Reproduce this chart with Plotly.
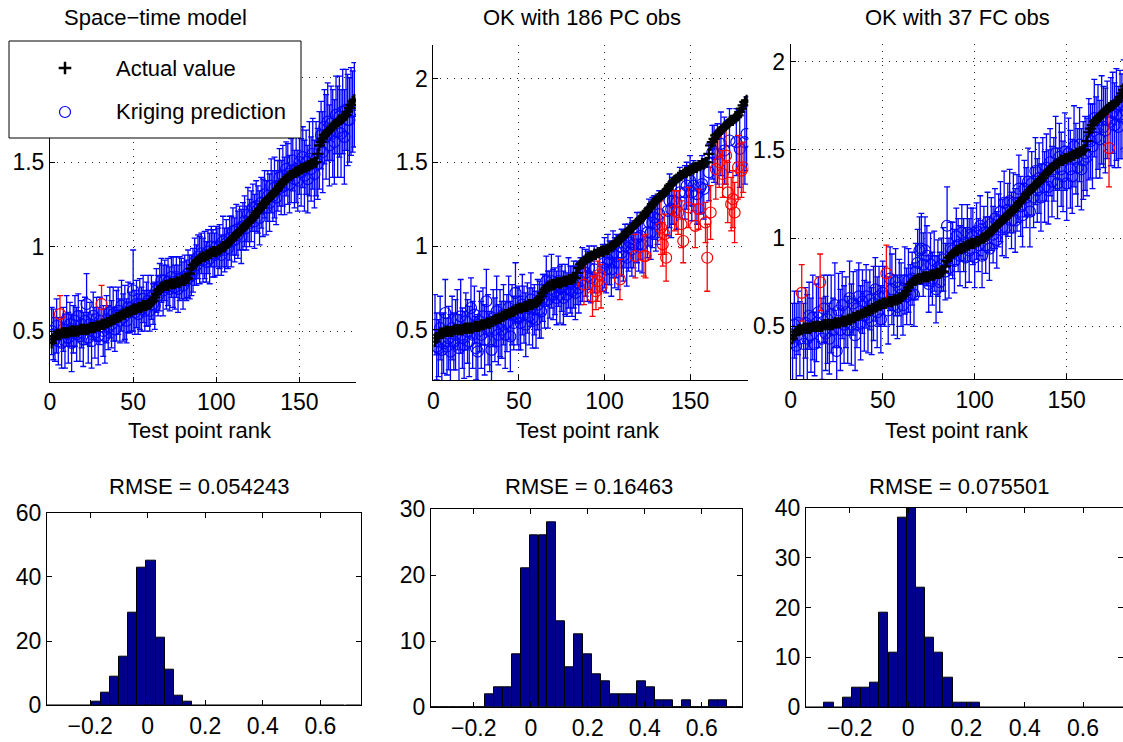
import plotly.graph_objects as go

W, H = 1123, 742

# ---------------- data ----------------
rank = list(range(1, 184))

actual = [
    0.43, 0.45, 0.47, 0.48, 0.48, 0.48, 0.49, 0.49, 0.49, 0.49,
    0.49, 0.50, 0.50, 0.50, 0.50, 0.50, 0.50, 0.51, 0.51, 0.51,
    0.51, 0.51, 0.51, 0.52, 0.52, 0.52, 0.52, 0.53, 0.53, 0.53,
    0.54, 0.54, 0.54, 0.55, 0.55, 0.56, 0.56, 0.57, 0.57, 0.58,
    0.58, 0.59, 0.59, 0.60, 0.60, 0.61, 0.61, 0.62, 0.62, 0.63,
    0.63, 0.63, 0.64, 0.64, 0.64, 0.65, 0.65, 0.65, 0.66, 0.66,
    0.67, 0.68, 0.70, 0.72, 0.74, 0.75, 0.76, 0.76, 0.77, 0.77,
    0.77, 0.78, 0.78, 0.78, 0.78, 0.79, 0.79, 0.79, 0.80, 0.80,
    0.80, 0.81, 0.81, 0.84, 0.87, 0.89, 0.90, 0.91, 0.92, 0.93,
    0.93, 0.94, 0.94, 0.95, 0.95, 0.96, 0.96, 0.97, 0.97, 0.97,
    0.98, 0.98, 0.99, 1.00, 1.00, 1.01, 1.02, 1.03, 1.04, 1.05,
    1.06, 1.07, 1.08, 1.09, 1.10, 1.11, 1.12, 1.13, 1.14, 1.15,
    1.16, 1.17, 1.18, 1.20, 1.21, 1.22, 1.23, 1.25, 1.26, 1.27,
    1.28, 1.29, 1.30, 1.31, 1.32, 1.33, 1.34, 1.36, 1.37, 1.38,
    1.39, 1.40, 1.41, 1.42, 1.42, 1.43, 1.44, 1.44, 1.45, 1.45,
    1.46, 1.46, 1.47, 1.47, 1.48, 1.48, 1.49, 1.49, 1.50, 1.50,
    1.55, 1.60, 1.62, 1.64, 1.66, 1.67, 1.68, 1.69, 1.70, 1.71,
    1.72, 1.73, 1.74, 1.75, 1.75, 1.76, 1.77, 1.78, 1.80, 1.82,
    1.84, 1.86, 1.87]

pred_st = [
    0.50, 0.48, 0.45, 0.53, 0.44, 0.60, 0.43, 0.51, 0.44, 0.57,
    0.46, 0.54, 0.43, 0.51, 0.56, 0.48, 0.59, 0.47, 0.54, 0.45,
    0.56, 0.66, 0.46, 0.54, 0.44, 0.59, 0.49, 0.57, 0.47, 0.56,
    0.66, 0.50, 0.47, 0.57, 0.52, 0.61, 0.54, 0.60, 0.51, 0.59,
    0.62, 0.56, 0.65, 0.58, 0.61, 0.56, 0.64, 0.61, 0.64, 0.74,
    0.61, 0.66, 0.60, 0.66, 0.63, 0.69, 0.62, 0.66, 0.68, 0.62,
    0.70, 0.66, 0.65, 0.74, 0.71, 0.76, 0.80, 0.74, 0.80, 0.76,
    0.79, 0.75, 0.82, 0.79, 0.76, 0.82, 0.75, 0.81, 0.81, 0.77,
    0.82, 0.80, 0.84, 0.82, 0.83, 0.86, 0.91, 0.89, 0.94, 0.92,
    0.96, 0.92, 0.95, 0.91, 0.97, 0.93, 1.00, 0.96, 0.95, 1.00,
    0.97, 1.00, 0.95, 1.03, 0.98, 1.02, 0.99, 1.05, 1.03, 1.09,
    1.04, 1.10, 1.07, 1.11, 1.06, 1.12, 1.15, 1.11, 1.19, 1.14,
    1.18, 1.23, 1.15, 1.24, 1.22, 1.17, 1.26, 1.23, 1.31, 1.23,
    1.30, 1.26, 1.36, 1.30, 1.35, 1.29, 1.36, 1.41, 1.35, 1.42,
    1.36, 1.46, 1.43, 1.37, 1.45, 1.51, 1.40, 1.46, 1.39, 1.50,
    1.44, 1.53, 1.42, 1.50, 1.40, 1.52, 1.46, 1.55, 1.43, 1.52,
    1.49, 1.57, 1.66, 1.56, 1.71, 1.65, 1.74, 1.60, 1.73, 1.67,
    1.62, 1.78, 1.68, 1.77, 1.67, 1.80, 1.65, 1.81, 1.75, 1.75,
    1.80, 1.80, 1.84]

hw_st = [
    0.14, 0.15, 0.13, 0.16, 0.14, 0.11, 0.15, 0.13, 0.16, 0.14,
    0.15, 0.13, 0.17, 0.14, 0.15, 0.16, 0.13, 0.15, 0.14, 0.16,
    0.14, 0.18, 0.15, 0.13, 0.16, 0.14, 0.15, 0.13, 0.17, 0.14,
    0.11, 0.15, 0.16, 0.14, 0.13, 0.15, 0.14, 0.16, 0.13, 0.15,
    0.14, 0.13, 0.15, 0.14, 0.16, 0.13, 0.15, 0.12, 0.14, 0.24,
    0.13, 0.14, 0.12, 0.15, 0.13, 0.14, 0.12, 0.13, 0.15, 0.12,
    0.13, 0.12, 0.14, 0.13, 0.12, 0.14, 0.13, 0.15, 0.12, 0.13,
    0.14, 0.13, 0.12, 0.15, 0.13, 0.12, 0.14, 0.13, 0.12, 0.14,
    0.13, 0.12, 0.14, 0.13, 0.12, 0.13, 0.14, 0.12, 0.13, 0.14,
    0.12, 0.13, 0.14, 0.12, 0.13, 0.15, 0.12, 0.14, 0.13, 0.12,
    0.14, 0.13, 0.12, 0.15, 0.13, 0.14, 0.12, 0.13, 0.15, 0.14,
    0.13, 0.15, 0.14, 0.13, 0.16, 0.14, 0.15, 0.13, 0.16, 0.14,
    0.15, 0.14, 0.16, 0.15, 0.14, 0.16, 0.15, 0.17, 0.14, 0.16,
    0.15, 0.17, 0.16, 0.15, 0.18, 0.16, 0.15, 0.17, 0.16, 0.18,
    0.17, 0.16, 0.18, 0.17, 0.19, 0.18, 0.17, 0.20, 0.18, 0.19,
    0.20, 0.18, 0.21, 0.19, 0.20, 0.22, 0.19, 0.21, 0.20, 0.22,
    0.21, 0.23, 0.20, 0.24, 0.22, 0.25, 0.23, 0.24, 0.22, 0.26,
    0.25, 0.23, 0.27, 0.24, 0.26, 0.25, 0.28, 0.24, 0.27, 0.25,
    0.26, 0.24, 0.25]

pred_pc = [
    0.53, 0.40, 0.39, 0.51, 0.38, 0.42, 0.60, 0.40, 0.45, 0.37,
    0.51, 0.43, 0.47, 0.56, 0.39, 0.58, 0.45, 0.41, 0.55, 0.49,
    0.43, 0.63, 0.47, 0.59, 0.39, 0.37, 0.55, 0.47, 0.58, 0.44,
    0.67, 0.50, 0.43, 0.38, 0.57, 0.50, 0.61, 0.47, 0.54, 0.50,
    0.59, 0.47, 0.54, 0.63, 0.46, 0.59, 0.54, 0.72, 0.58, 0.57,
    0.54, 0.65, 0.59, 0.53, 0.63, 0.58, 0.68, 0.57, 0.62, 0.56,
    0.65, 0.62, 0.61, 0.69, 0.67, 0.79, 0.68, 0.71, 0.79, 0.71,
    0.73, 0.69, 0.79, 0.71, 0.75, 0.69, 0.74, 0.71, 0.78, 0.74,
    0.73, 0.77, 0.72, 0.78, 0.75, 0.79, 0.83, 0.77, 0.84, 0.82,
    0.87, 0.81, 0.70, 0.86, 0.73, 0.79, 0.83, 0.76, 0.87, 0.90,
    0.86, 0.92, 0.90, 0.86, 0.95, 0.90, 0.94, 0.90, 0.80, 0.96,
    0.94, 1.00, 0.93, 0.99, 1.02, 0.98, 1.01, 0.94, 1.05, 1.01,
    1.06, 1.01, 0.94, 0.94, 1.08, 1.14, 1.08, 1.14, 1.17, 1.13,
    1.16, 1.19, 1.11, 1.01, 1.07, 0.93, 1.21, 1.27, 1.22, 1.27,
    1.21, 1.26, 1.20, 1.32, 1.13, 1.03, 1.32, 1.36, 1.23, 1.39,
    1.32, 1.36, 1.12, 1.31, 1.22, 1.35, 1.37, 1.34, 1.14, 0.93,
    1.44, 1.20, 1.56, 1.55, 1.46, 1.55, 1.50, 1.61, 1.43, 1.57,
    1.54, 1.32, 1.63, 1.25, 1.28, 1.20, 1.62, 1.47, 1.58, 1.45,
    1.47, 1.62, 1.67]

hw_pc = [
    0.18, 0.20, 0.17, 0.19, 0.21, 0.18, 0.20, 0.17, 0.19, 0.22,
    0.19, 0.17, 0.21, 0.18, 0.20, 0.22, 0.18, 0.20, 0.17, 0.19,
    0.21, 0.18, 0.20, 0.17, 0.19, 0.22, 0.18, 0.20, 0.17, 0.21,
    0.19, 0.21, 0.18, 0.20, 0.17, 0.19, 0.21, 0.18, 0.20, 0.17,
    0.18, 0.20, 0.17, 0.19, 0.21, 0.18, 0.16, 0.18, 0.17, 0.19,
    0.16, 0.18, 0.17, 0.19, 0.15, 0.17, 0.16, 0.18, 0.15, 0.17,
    0.15, 0.17, 0.16, 0.14, 0.16, 0.15, 0.17, 0.14, 0.16, 0.15,
    0.14, 0.16, 0.15, 0.17, 0.14, 0.16, 0.15, 0.13, 0.15, 0.14,
    0.15, 0.14, 0.16, 0.13, 0.15, 0.14, 0.16, 0.12, 0.14, 0.15,
    0.13, 0.15, 0.12, 0.14, 0.11, 0.12, 0.11, 0.13, 0.14, 0.15,
    0.14, 0.15, 0.13, 0.16, 0.14, 0.15, 0.13, 0.16, 0.12, 0.14,
    0.15, 0.13, 0.17, 0.14, 0.15, 0.16, 0.14, 0.13, 0.15, 0.16,
    0.14, 0.17, 0.12, 0.13, 0.15, 0.14, 0.16, 0.15, 0.13, 0.16,
    0.15, 0.14, 0.16, 0.13, 0.12, 0.14, 0.15, 0.16, 0.17, 0.14,
    0.12, 0.16, 0.13, 0.15, 0.14, 0.13, 0.16, 0.14, 0.12, 0.15,
    0.17, 0.15, 0.13, 0.18, 0.12, 0.16, 0.17, 0.18, 0.12, 0.20,
    0.17, 0.16, 0.16, 0.17, 0.18, 0.18, 0.15, 0.19, 0.14, 0.20,
    0.17, 0.18, 0.19, 0.16, 0.17, 0.18, 0.20, 0.19, 0.23, 0.16,
    0.15, 0.25, 0.22]

pred_fc = [
    0.41, 0.51, 0.39, 0.52, 0.43, 0.69, 0.40, 0.52, 0.43, 0.56,
    0.45, 0.55, 0.40, 0.52, 0.58, 0.75, 0.43, 0.60, 0.46, 0.54,
    0.43, 0.57, 0.48, 0.62, 0.36, 0.59, 0.48, 0.62, 0.51, 0.58,
    0.48, 0.66, 0.51, 0.63, 0.45, 0.60, 0.67, 0.52, 0.64, 0.56,
    0.67, 0.55, 0.65, 0.53, 0.63, 0.71, 0.58, 0.67, 0.54, 0.69,
    0.67, 0.80, 0.59, 0.77, 0.71, 0.62, 0.75, 0.61, 0.72, 0.68,
    0.62, 0.76, 0.67, 0.76, 0.68, 0.77, 0.68, 0.81, 0.86, 0.93,
    0.94, 0.85, 0.93, 0.90, 0.74, 0.85, 0.77, 0.87, 0.71, 0.83,
    0.75, 0.85, 0.88, 0.81, 1.07, 0.83, 0.94, 0.93, 0.87, 1.01,
    0.96, 0.90, 1.03, 0.96, 0.89, 1.03, 0.93, 1.02, 1.01, 0.89,
    1.04, 0.96, 1.07, 0.90, 1.03, 0.96, 1.09, 0.94, 1.08, 1.02,
    1.11, 0.99, 1.10, 1.15, 1.06, 1.20, 1.06, 1.16, 1.21, 1.10,
    1.20, 1.10, 1.20, 1.28, 1.18, 1.13, 1.28, 1.23, 1.32, 1.15,
    1.31, 1.23, 1.38, 1.27, 1.34, 1.23, 1.39, 1.29, 1.40, 1.29,
    1.43, 1.32, 1.39, 1.48, 1.31, 1.46, 1.39, 1.35, 1.49, 1.31,
    1.48, 1.39, 1.35, 1.52, 1.45, 1.40, 1.53, 1.39, 1.44, 1.48,
    1.46, 1.56, 1.55, 1.52, 1.68, 1.57, 1.63, 1.56, 1.67, 1.63,
    1.61, 1.67, 1.51, 1.66, 1.71, 1.64, 1.70, 1.63, 1.70, 1.69,
    1.76, 1.72, 1.76]

hw_fc = [
    0.22, 0.19, 0.24, 0.18, 0.21, 0.16, 0.23, 0.20, 0.25, 0.19,
    0.21, 0.24, 0.18, 0.22, 0.20, 0.16, 0.23, 0.19, 0.21, 0.25,
    0.20, 0.22, 0.18, 0.24, 0.18, 0.21, 0.23, 0.19, 0.22, 0.20,
    0.19, 0.21, 0.23, 0.18, 0.20, 0.22, 0.19, 0.21, 0.18, 0.20,
    0.18, 0.20, 0.17, 0.19, 0.21, 0.18, 0.20, 0.17, 0.19, 0.18,
    0.17, 0.16, 0.19, 0.18, 0.20, 0.17, 0.19, 0.18, 0.16, 0.18,
    0.17, 0.19, 0.16, 0.18, 0.17, 0.15, 0.18, 0.16, 0.19, 0.19,
    0.20, 0.18, 0.19, 0.17, 0.16, 0.18, 0.15, 0.17, 0.19, 0.16,
    0.17, 0.15, 0.18, 0.16, 0.22, 0.17, 0.15, 0.16, 0.18, 0.16,
    0.15, 0.17, 0.16, 0.15, 0.17, 0.16, 0.18, 0.15, 0.16, 0.17,
    0.16, 0.15, 0.17, 0.18, 0.15, 0.16, 0.17, 0.18, 0.15, 0.16,
    0.17, 0.16, 0.15, 0.17, 0.16, 0.18, 0.17, 0.15, 0.18, 0.16,
    0.17, 0.18, 0.16, 0.19, 0.17, 0.18, 0.16, 0.17, 0.19, 0.20,
    0.18, 0.17, 0.19, 0.18, 0.20, 0.19, 0.18, 0.20, 0.19, 0.21,
    0.19, 0.20, 0.18, 0.21, 0.20, 0.19, 0.21, 0.20, 0.22, 0.21,
    0.20, 0.22, 0.21, 0.23, 0.20, 0.22, 0.21, 0.23, 0.22, 0.21,
    0.22, 0.23, 0.21, 0.24, 0.22, 0.23, 0.24, 0.22, 0.25, 0.23,
    0.24, 0.22, 0.22, 0.25, 0.23, 0.24, 0.26, 0.23, 0.25, 0.24,
    0.25, 0.23, 0.24]

# histogram bins (centres) and counts of the prediction errors
bin_centers = [
    -0.3343, -0.3029, -0.2714, -0.2400, -0.2086, -0.1771, -0.1457,
    -0.1143, -0.0829, -0.0514, -0.0200, 0.0114, 0.0429, 0.0743,
    0.1057, 0.1371, 0.1686, 0.2000, 0.2314, 0.2629, 0.2943,
    0.3257, 0.3571, 0.3886, 0.4200, 0.4514, 0.4829, 0.5143,
    0.5457, 0.5771, 0.6086, 0.6400, 0.6714, 0.7029, 0.7343]
counts_st = [0, 0, 0, 0, 0, 1, 4, 9, 15, 29, 43, 45, 21, 11, 3, 1, 0, 0,
             0, 0, 0, 0, 0, 0, 0, 0, 0, 0, 0, 0, 0, 0, 0, 0, 0]
counts_pc = [0, 0, 0, 0, 0, 0, 2, 3, 3, 8, 21, 26, 26, 28, 13, 6, 11, 8,
             5, 4, 2, 2, 2, 4, 3, 1, 1, 0, 1, 0, 0, 1, 1, 0, 0]
counts_fc = [0, 0, 1, 0, 2, 4, 4, 5, 19, 11, 38, 40, 24, 14, 11, 6, 1, 1,
             1, 0, 0, 0, 0, 0, 0, 0, 0, 0, 0, 0, 0, 0, 0, 0, 0]

top_titles = ["Space\u2212time model", "OK with 186 PC obs", "OK with 37 FC obs"]
hist_titles = ["RMSE = 0.054243", "RMSE = 0.16463", "RMSE = 0.075501"]
x_label = "Test point rank"
legend_labels = ["Actual value", "Kriging prediction"]

for arr in (actual, pred_st, hw_st, pred_pc, hw_pc, pred_fc, hw_fc):
    assert len(arr) == len(rank), len(arr)

# ---------------- layout helpers ----------------
FONT = "Liberation Sans, Arial, Helvetica, sans-serif"
FS_TICK = 23
FS_TEXT = 22


def px_x(x):
    return x / W


def px_y(y):
    return 1 - y / H


BLUE = "rgb(0,0,255)"
RED = "rgb(255,0,0)"
BAR = "rgb(0,0,143)"

fig = go.Figure()

top_panels = [
    dict(pred=pred_st, hw=hw_st, box=(50, 356, 44, 381.7), xr=[0, 184], yr=[0.2, 2.2]),
    dict(pred=pred_pc, hw=hw_pc, box=(433.3, 748.3, 45, 380), xr=[0, 184], yr=[0.2, 2.2]),
    dict(pred=pred_fc, hw=hw_fc, box=(790.7, 1123, 44, 379.3), xr=[0, 180.6], yr=[0.2, 2.1]),
]
hist_panels = [
    dict(counts=counts_st, box=(47, 360.7, 512.7, 705.3), xr=[-0.35, 0.74], yr=[0, 60],
         yt=[0, 20, 40, 60]),
    dict(counts=counts_pc, box=(431, 741.7, 509.3, 707.3), xr=[-0.35, 0.74], yr=[0, 30],
         yt=[0, 10, 20, 30]),
    dict(counts=counts_fc, box=(806, 1123, 507.7, 707.3), xr=[-0.35, 0.737], yr=[0, 40],
         yt=[0, 10, 20, 30, 40]),
]

layout = dict(
    width=W, height=H, autosize=False,
    margin=dict(l=0, r=0, t=0, b=0, autoexpand=False),
    paper_bgcolor="white", plot_bgcolor="rgba(0,0,0,0)",
    showlegend=False, font=dict(family=FONT, size=FS_TEXT, color="black"),
    bargap=0,
)

annotations = []

for i, p in enumerate(top_panels):
    n = i + 1
    xa = "x" if n == 1 else f"x{n}"
    ya = "y" if n == 1 else f"y{n}"
    blue_x, blue_y, blue_e = [], [], []
    red_x, red_y, red_e = [], [], []
    for r, a, pv, h in zip(rank, actual, p["pred"], p["hw"]):
        if abs(a - pv) > h + 1e-9:
            red_x.append(r); red_y.append(pv); red_e.append(h)
        else:
            blue_x.append(r); blue_y.append(pv); blue_e.append(h)
    for xs, ys, es, col in ((blue_x, blue_y, blue_e, BLUE), (red_x, red_y, red_e, RED)):
        fig.add_trace(go.Scatter(
            x=xs, y=ys, mode="markers", xaxis=xa, yaxis=ya,
            marker=dict(symbol="circle-open", size=11, color=col, line=dict(width=1.2, color=col)),
            error_y=dict(type="data", array=es, visible=True, color=col, thickness=1.3, width=3),
            hoverinfo="skip"))
    fig.add_trace(go.Scatter(
        x=rank, y=actual, mode="markers", xaxis=xa, yaxis=ya,
        marker=dict(symbol="cross-thin", size=8, color="black", line=dict(width=2.2, color="black")),
        hoverinfo="skip"))
    x0, x1, y0, y1 = p["box"]
    axis_common = dict(
        showline=True, linecolor="black", linewidth=1, mirror=False,
        ticks="inside", ticklen=5, tickwidth=1, tickcolor="black",
        showgrid=True, gridcolor="rgb(40,40,40)", gridwidth=1, griddash="1px,6px",
        zeroline=False, tickfont=dict(size=FS_TICK, family=FONT, color="black"),
        fixedrange=True, automargin=False,
    )
    layout["xaxis" if n == 1 else f"xaxis{n}"] = dict(
        axis_common, domain=[px_x(x0), min(1.0, px_x(x1))], range=p["xr"], anchor=ya,
        tickmode="array", tickvals=[0, 50, 100, 150], ticktext=["0", "50", "100", "150"])
    layout["yaxis" if n == 1 else f"yaxis{n}"] = dict(
        axis_common, domain=[px_y(y1), px_y(y0)], range=p["yr"], anchor=xa,
        tickmode="array", tickvals=[0.5, 1, 1.5, 2], ticktext=["0.5", "1", "1.5", "2"])

for i, p in enumerate(hist_panels):
    n = i + 4
    xa, ya = f"x{n}", f"y{n}"
    fig.add_trace(go.Bar(
        x=bin_centers, y=p["counts"], width=bin_centers[1] - bin_centers[0],
        xaxis=xa, yaxis=ya,
        marker=dict(color=BAR, line=dict(color="black", width=1)), hoverinfo="skip"))
    x0, x1, y0, y1 = p["box"]
    axis_common = dict(
        showline=True, linecolor="black", linewidth=1, mirror="ticks",
        ticks="inside", ticklen=5, tickwidth=1, tickcolor="black",
        showgrid=False, zeroline=False,
        tickfont=dict(size=FS_TICK, family=FONT, color="black"), fixedrange=True,
        automargin=False,
    )
    layout[f"xaxis{n}"] = dict(
        axis_common, domain=[px_x(x0), min(1.0, px_x(x1))], range=p["xr"], anchor=ya,
        tickmode="array", tickvals=[-0.2, 0, 0.2, 0.4, 0.6],
        ticktext=["\u22120.2", "0", "0.2", "0.4", "0.6"])
    layout[f"yaxis{n}"] = dict(
        axis_common, domain=[px_y(y1), px_y(y0)], range=p["yr"], anchor=xa,
        tickmode="array", tickvals=p["yt"], ticktext=[str(v) for v in p["yt"]])

# ---------------- texts ----------------
top_title_x = [155, 582, 957]
label_x = [200, 588, 957]
hist_title_x = [199, 589, 959]
for k in range(3):
    annotations.append(dict(text=top_titles[k], x=px_x(top_title_x[k]), y=px_y(18),
                            xref="paper", yref="paper", showarrow=False,
                            xanchor="center", yanchor="middle", font=dict(size=FS_TEXT)))
    annotations.append(dict(text=x_label, x=px_x(label_x[k]), y=px_y(430),
                            xref="paper", yref="paper", showarrow=False,
                            xanchor="center", yanchor="middle", font=dict(size=FS_TEXT)))
    annotations.append(dict(text=hist_titles[k], x=px_x(hist_title_x[k]), y=px_y(487),
                            xref="paper", yref="paper", showarrow=False,
                            xanchor="center", yanchor="middle", font=dict(size=FS_TEXT)))

# ---------------- legend (drawn on an overlay pixel axis) ----------------
fig.add_trace(go.Scatter(
    x=[9, 301, 301, 9, 9], y=[41, 41, 138, 138, 41], mode="lines", fill="toself",
    fillcolor="white", line=dict(color="black", width=1), xaxis="x7", yaxis="y7",
    hoverinfo="skip"))
fig.add_trace(go.Scatter(
    x=[65], y=[68], mode="markers", xaxis="x7", yaxis="y7",
    marker=dict(symbol="cross-thin", size=9, color="black", line=dict(width=2.5, color="black")),
    hoverinfo="skip"))
fig.add_trace(go.Scatter(
    x=[65], y=[112], mode="markers", xaxis="x7", yaxis="y7",
    marker=dict(symbol="circle-open", size=11, color=BLUE, line=dict(width=1.2, color=BLUE)),
    hoverinfo="skip"))
layout["xaxis7"] = dict(domain=[0, 1], range=[0, W], visible=False, fixedrange=True, anchor="y7")
layout["yaxis7"] = dict(domain=[0, 1], range=[H, 0], visible=False, fixedrange=True, anchor="x7")
for txt, yy in zip(legend_labels, [68, 112]):
    annotations.append(dict(text=txt, x=px_x(114), y=px_y(yy), xref="paper", yref="paper",
                            showarrow=False, xanchor="left", yanchor="middle",
                            font=dict(size=FS_TEXT)))

layout["annotations"] = annotations
fig.update_layout(**layout)
fig.write_html("out.html")
